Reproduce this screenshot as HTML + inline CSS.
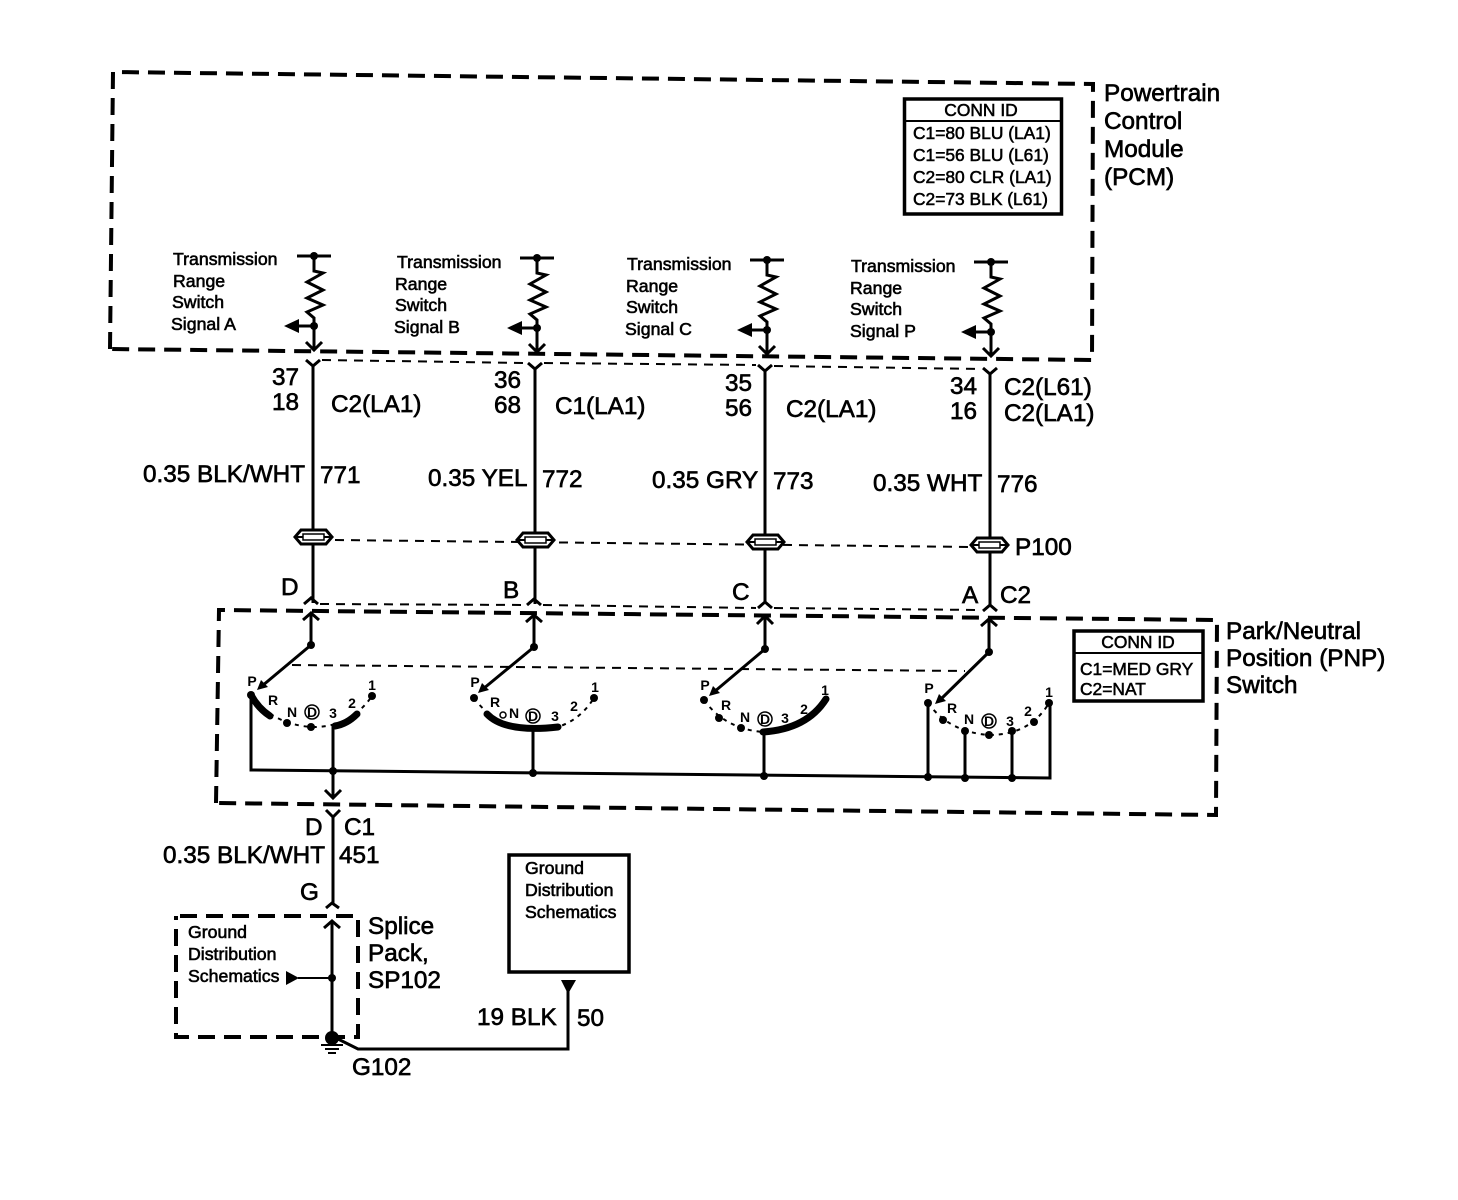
<!DOCTYPE html>
<html>
<head>
<meta charset="utf-8">
<style>
html,body{margin:0;padding:0;background:#fff;}
svg{display:block;}
text{font-family:"Liberation Sans",sans-serif;fill:#000;stroke:#000;}
.l{font-size:24.3px;stroke-width:.65;}
.s{font-size:17.7px;stroke-width:.6;}
.c{font-size:17.4px;stroke-width:.55;}
.t{font-size:14px;font-weight:bold;stroke:none;text-anchor:middle;}
.w{fill:none;stroke:#000;stroke-width:3;}
.d{fill:none;stroke:#000;stroke-width:4;stroke-dasharray:17 9;}
.h{fill:none;stroke:#000;stroke-width:2;stroke-dasharray:9 7;}
.o{fill:none;stroke:#000;stroke-width:2;stroke-dasharray:4 5;}
.b{fill:none;stroke:#000;stroke-width:7;stroke-linecap:round;}
</style>
</head>
<body>
<svg xmlns="http://www.w3.org/2000/svg" width="1458" height="1200" viewBox="0 0 1458 1200">
<rect width="1458" height="1200" fill="#fff"/>

<!-- PCM box -->
<path class="d" d="M110,349 L113,72 L1093,84 L1092,360 L110,349"/>
<path class="h" d="M322,360 L526,363 M544,363 L756,365 M774,366 L981,369"/>

<!-- PNP box -->
<path class="d" d="M216,803 L219,610 L1217,620 L1216,815 L216,803"/>
<path class="h" d="M320,604 L525,605 M543,605 L756,608 M774,608 L981,610"/>
<path class="h" d="M292,665 L965,671"/>
<path class="h" d="M335,540 L972,547"/>

<!-- Conn ID top -->
<rect x="904.500" y="99" width="157" height="115" fill="none" stroke="#000" stroke-width="3.500"/>
<path d="M904,121 H1062" stroke="#000" stroke-width="2"/>
<text class="c" x="981" y="116" text-anchor="middle">CONN ID</text>
<text class="c" x="913" y="139">C1=80 BLU (LA1)</text>
<text class="c" x="913" y="161">C1=56 BLU (L61)</text>
<text class="c" x="913" y="183">C2=80 CLR (LA1)</text>
<text class="c" x="913" y="205">C2=73 BLK (L61)</text>

<!-- Conn ID PNP -->
<rect x="1074" y="631" width="129" height="70" fill="none" stroke="#000" stroke-width="3.500"/>
<path d="M1074,653 H1203" stroke="#000" stroke-width="2"/>
<text class="c" x="1138" y="648" text-anchor="middle">CONN ID</text>
<text class="c" x="1080" y="675">C1=MED GRY</text>
<text class="c" x="1080" y="695">C2=NAT</text>

<!-- Big labels -->
<text class="l" x="1104" y="101">Powertrain</text>
<text class="l" x="1104" y="129">Control</text>
<text class="l" x="1104" y="157">Module</text>
<text class="l" x="1104" y="185">(PCM)</text>
<text class="l" x="1226" y="639">Park/Neutral</text>
<text class="l" x="1226" y="666">Position (PNP)</text>
<text class="l" x="1226" y="693">Switch</text>

<text class="l" x="272" y="385">37</text><text class="l" x="272" y="410">18</text><text class="l" x="331" y="412">C2(LA1)</text>
<text class="l" x="494" y="388">36</text><text class="l" x="494" y="413">68</text><text class="l" x="555" y="414">C1(LA1)</text>
<text class="l" x="725" y="391">35</text><text class="l" x="725" y="416">56</text><text class="l" x="786" y="417">C2(LA1)</text>
<text class="l" x="950" y="394">34</text><text class="l" x="950" y="419">16</text><text class="l" x="1004" y="395">C2(L61)</text><text class="l" x="1004" y="421">C2(LA1)</text>

<text class="l" x="143" y="482">0.35 BLK/WHT</text><text class="l" x="320" y="483">771</text>
<text class="l" x="428" y="486">0.35 YEL</text><text class="l" x="542" y="487">772</text>
<text class="l" x="652" y="488">0.35 GRY</text><text class="l" x="773" y="489">773</text>
<text class="l" x="873" y="491">0.35 WHT</text><text class="l" x="997" y="492">776</text>

<text class="l" x="1015" y="555">P100</text>
<text class="l" x="281" y="595">D</text>
<text class="l" x="503" y="598">B</text>
<text class="l" x="732" y="600">C</text>
<text class="l" x="962" y="603">A</text>
<text class="l" x="1000" y="603">C2</text>

<text class="l" x="305" y="835">D</text>
<text class="l" x="344" y="835">C1</text>
<text class="l" x="163" y="863">0.35 BLK/WHT</text>
<text class="l" x="339" y="863">451</text>
<text class="l" x="300" y="900">G</text>
<text class="l" x="368" y="934">Splice</text>
<text class="l" x="368" y="961">Pack,</text>
<text class="l" x="368" y="988">SP102</text>
<text class="l" x="477" y="1025">19 BLK</text>
<text class="l" x="577" y="1026">50</text>
<text class="l" x="352" y="1075">G102</text>

<!-- Small labels -->
<text class="s" x="173" y="265">Transmission</text><text class="s" x="173" y="287">Range</text><text class="s" x="172" y="308">Switch</text><text class="s" x="171" y="330">Signal A</text>
<text class="s" x="397" y="268">Transmission</text><text class="s" x="395" y="290">Range</text><text class="s" x="395" y="311">Switch</text><text class="s" x="394" y="333">Signal B</text>
<text class="s" x="627" y="270">Transmission</text><text class="s" x="626" y="292">Range</text><text class="s" x="626" y="313">Switch</text><text class="s" x="625" y="335">Signal C</text>
<text class="s" x="851" y="272">Transmission</text><text class="s" x="850" y="294">Range</text><text class="s" x="850" y="315">Switch</text><text class="s" x="850" y="337">Signal P</text>
<text class="s" x="188" y="938">Ground</text><text class="s" x="188" y="960">Distribution</text><text class="s" x="188" y="982">Schematics</text>
<text class="s" x="525" y="874">Ground</text><text class="s" x="525" y="896">Distribution</text><text class="s" x="525" y="918">Schematics</text>

<!-- PCM pull-up blocks -->
<g id="r1">
<path class="w" d="M297,256 H331 M314,256 V271 L323,273 L307,282 L323,290 L307,298 L323,305 L307,312 L314,318 V349"/>
<circle cx="314" cy="256" r="4"/><circle cx="314" cy="326" r="4"/>
<path class="w" d="M314,326 H296"/>
<path d="M284,326 L299,319 V333 Z"/>
<path class="w" d="M306,342 L314,350 L322,342"/>
</g>
<use href="#r1" x="223" y="2"/>
<use href="#r1" x="453" y="4"/>
<use href="#r1" x="677" y="6"/>

<!-- Y connectors and wires -->
<path class="w" d="M313,366 V603 M306,360 L313,366 L320,360"/>
<path class="w" d="M535,369 V604 M528,363 L535,369 L542,363"/>
<path class="w" d="M765,371 V604 M758,365 L765,371 L772,365"/>
<path class="w" d="M990,374 V606 M983,368 L990,374 L997,368"/>

<!-- In-line connectors -->
<g id="p1" fill="#fff" stroke="#000">
<path d="M295,537 L301,530 H326 L332,537 L326,544 H301 Z" stroke-width="3"/>
<path d="M295,537 H332" fill="none" stroke-width="2"/>
<rect x="303" y="534" width="21" height="6" stroke-width="1.500" fill="#fff"/>
</g>
<use href="#p1" x="222" y="3"/>
<use href="#p1" x="452" y="5"/>
<use href="#p1" x="676" y="8"/>

<!-- Caret at top of PNP -->
<path class="w" d="M304,604 L311,598 L318,604"/>
<path class="w" d="M527,605 L534,599 L541,605"/>
<path class="w" d="M758,608 L765,602 L772,608"/>
<path class="w" d="M983,611 L990,605 L997,611"/>

<!-- Up arrows from switches -->
<path class="w" d="M311,645 V614 M303,620 L311,613 L319,620"/>
<path class="w" d="M534,647 V616 M526,622 L534,615 L542,622"/>
<path class="w" d="M765,649 V617 M757,624 L765,616 L773,624"/>
<path class="w" d="M989,652 V620 M981,626 L989,619 L997,626"/>

<!-- Wipers -->
<path class="w" d="M311,645 L262,686"/><path d="M257,690 L261,680 L268,687 Z"/>
<path class="w" d="M534,647 L483,689"/><path d="M478,693 L482,683 L489,690 Z"/>
<path class="w" d="M765,649 L714,692"/><path d="M709,696 L713,686 L720,693 Z"/>
<path class="w" d="M989,652 L940,700"/><path d="M935,704 L939,694 L946,701 Z"/>
<circle cx="311" cy="645" r="4"/><circle cx="534" cy="647" r="4"/><circle cx="765" cy="649" r="4"/><circle cx="989" cy="652" r="4"/>

<!-- Arcs -->
<path class="o" d="M251,695 Q272,724 311,727 Q350,728 372,696"/>
<path class="o" d="M474,698 Q495,727 534,730 Q573,731 594,698"/>
<path class="o" d="M704,700 Q725,729 763,732 Q805,730 825,698"/>
<path class="o" d="M928,703 Q949,732 989,735 Q1030,735 1049,703"/>

<!-- Switch 1 -->
<path class="b" d="M251,695 Q258,708 270,716"/>
<path class="b" d="M335,726 Q347,724 357,714"/>
<circle cx="251" cy="695" r="4"/><circle cx="287" cy="723" r="4"/><circle cx="311" cy="727" r="4"/><circle cx="372" cy="696" r="4"/>
<!-- Switch 2 -->
<path class="b" d="M487,714 Q505,733 558,727"/>
<circle cx="474" cy="698" r="4"/><circle cx="594" cy="698" r="4"/>
<!-- Switch 3 -->
<path class="b" d="M763,732 Q807,729 826,699"/>
<circle cx="704" cy="700" r="4"/><circle cx="719" cy="718" r="4"/><circle cx="741" cy="728" r="4"/>
<!-- Switch 4 -->
<circle cx="928" cy="703" r="4"/><circle cx="943" cy="720" r="4"/><circle cx="965" cy="731" r="4"/><circle cx="989" cy="735" r="4"/><circle cx="1012" cy="731" r="4"/><circle cx="1034" cy="722" r="4"/><circle cx="1049" cy="703" r="4"/>

<!-- Position labels -->
<g>
<text class="t" x="252" y="686">P</text><text class="t" x="273" y="705">R</text><text class="t" x="292" y="717">N</text><text class="t" x="312" y="717">D</text><text class="t" x="333" y="718">3</text><text class="t" x="352" y="708">2</text><text class="t" x="372" y="690">1</text>
<text class="t" x="475" y="687">P</text><text class="t" x="495" y="707">R</text><text class="t" x="514" y="718">N</text><text class="t" x="533" y="721">D</text><text class="t" x="555" y="721">3</text><text class="t" x="574" y="711">2</text><text class="t" x="595" y="692">1</text>
<text class="t" x="705" y="690">P</text><text class="t" x="726" y="710">R</text><text class="t" x="745" y="722">N</text><text class="t" x="765" y="724">D</text><text class="t" x="785" y="723">3</text><text class="t" x="804" y="714">2</text><text class="t" x="825" y="695">1</text>
<text class="t" x="929" y="693">P</text><text class="t" x="952" y="713">R</text><text class="t" x="969" y="724">N</text><text class="t" x="989" y="726">D</text><text class="t" x="1010" y="726">3</text><text class="t" x="1028" y="716">2</text><text class="t" x="1049" y="697">1</text>
</g>
<g fill="none" stroke="#000" stroke-width="1.500">
<circle cx="312" cy="712" r="7"/><circle cx="533" cy="716" r="7"/><circle cx="765" cy="719" r="7"/><circle cx="989" cy="721" r="7"/><circle cx="503" cy="715" r="3"/>
</g>

<!-- Switch bus -->
<path class="w" d="M251,695 V770 L1050,778 V703"/>
<path class="w" d="M333,726 V797 M325,790 L333,798 L341,790"/>
<path class="w" d="M533,730 V773"/>
<path class="w" d="M764,732 V776"/>
<path class="w" d="M928,703 V777 M965,731 V778 M1012,731 V778"/>
<circle cx="333" cy="771" r="4"/><circle cx="533" cy="773" r="4"/><circle cx="764" cy="776" r="4"/><circle cx="928" cy="777" r="4"/><circle cx="965" cy="778" r="4"/><circle cx="1012" cy="778" r="4"/>

<!-- Lower wire -->
<path class="w" d="M333,817 V903 M326,810 L333,817 L340,810"/>
<path class="w" d="M326,908 L332,903 L339,908"/>

<!-- Splice pack -->
<path class="d" d="M180,916 H358 V1037 H176 V916"/>
<path class="w" d="M332,1036 V922 M324,928 L332,921 L340,928"/>
<circle cx="332" cy="978" r="4"/>
<path d="M286,971 V985 L299,978 Z"/>
<path d="M298,978 H332" stroke="#000" stroke-width="2"/>
<circle cx="332" cy="1038" r="7"/>
<path d="M321,1045 H343 M325,1049 H339 M328,1053 H336" stroke="#000" stroke-width="2"/>
<path class="w" d="M336,1038 L358,1049 H568 V990"/>
<path d="M561,980 H576 L568,994 Z"/>

<!-- Ground dist box -->
<rect x="509" y="855" width="120" height="117" fill="none" stroke="#000" stroke-width="3.500"/>
</svg>
</body>
</html>
